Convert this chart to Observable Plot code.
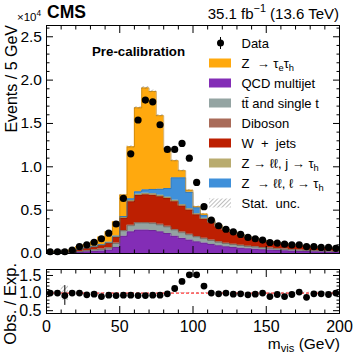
<!DOCTYPE html>
<html><head><meta charset="utf-8">
<script src="https://cdn.jsdelivr.net/npm/d3@7"></script>
<script src="https://cdn.jsdelivr.net/npm/@observablehq/plot@0.6"></script>
<style>
html,body{margin:0;padding:0;background:#fff;}
#wrap{position:relative;width:357px;height:356px;overflow:hidden;background:#fff;}
#wrap svg{position:absolute;left:0;}
</style></head>
<body><div id="wrap"></div>
<script>
// ---- data (units of 10^4 events / 5 GeV) ----
const binLow = [0,5,10,15,20,25,30,35,40,45,50,55,60,65,70,75,80,85,90,95,100,105,110,115,120,125,130,135,140,145,150,155,160,165,170,175,180,185,190,195];
const binWidth = 5;
const qcd     = [.003,.003,.005,.008,.012,.02,.025,.03,.04,.07,.2,.25,.27,.27,.265,.25,.23,.2,.175,.155,.135,.12,.105,.09,.078,.07,.062,.055,.05,.044,.04,.035,.032,.028,.025,.023,.021,.019,.017,.015];
const ttbar   = [.002,.002,.003,.006,.01,.012,.015,.018,.022,.045,.06,.07,.08,.08,.08,.078,.075,.07,.065,.06,.055,.05,.045,.04,.036,.033,.03,.027,.025,.022,.02,.018,.017,.015,.014,.013,.012,.011,.01,.009];
const diboson = [.001,.001,.001,.001,.002,.002,.003,.003,.004,.005,.006,.007,.008,.008,.008,.008,.008,.008,.008,.007,.006,.006,.005,.005,.004,.004,.004,.003,.003,.003,.003,.002,.002,.002,.002,.002,.002,.002,.002,.001];
const wjets   = [.004,.004,.004,.01,.02,.025,.03,.04,.05,.065,.14,.27,.31,.32,.32,.32,.32,.32,.3,.28,.25,.22,.2,.175,.148,.135,.118,.101,.094,.078,.07,.063,.062,.054,.048,.046,.041,.035,.037,.030];
const zjTau   = [.001,.001,.001,.002,.003,.004,.005,.006,.007,.008,.01,.015,.015,.016,.016,.016,.016,.015,.015,.014,.012,.011,.01,.009,.008,.007,.006,.005,.005,.004,.004,.003,.003,.003,.003,.003,.002,.002,.002,.002];
const zlTau   = [.001,.001,.001,.002,.003,.004,.005,.006,.007,.008,.01,.02,.03,.04,.05,.07,.1,.26,.31,.19,.07,.03,.012,.006,.003,.003,.002,.002,.001,.002,.001,.002,.002,.001,.001,.001,.002,.002,.002,.001];
const ztt     = [.008,.008,.007,.011,.03,.038,.052,.087,.12,.164,.249,.598,.967,1.176,1.131,.848,.461,.197,.082,.024,.012,.018,.013,.005,.003,.003,.003,.002,.002,.002,.002,.002,.002,.002,.002,.002,.002,.002,.002,.002];
const dataObs = [.02,.02,.02,.04,.08,.10,.13,.17,.235,.34,.635,1.15,1.54,1.77,1.75,1.485,1.20,1.20,1.27,1.10,.82,.54,.385,.32,.28,.25,.22,.185,.17,.155,.127,.12,.108,.10,.10,.08,.08,.07,.07,.06];
const ratio   = [1.0,1.0,0.93,1.0,1.0,0.95,0.97,0.9,0.94,0.93,0.94,0.94,0.93,0.93,0.94,0.94,0.98,1.13,1.33,1.52,1.52,1.2,1.0,0.98,1.0,0.97,0.98,0.95,0.97,1.0,0.9,0.96,0.9,0.96,1.03,0.88,0.98,0.98,0.96,1.0];
const ratioErr= [.05,.05,.28,.04,.03,.03,.03,.02,.02,.02,.01,.01,.01,.01,.01,.01,.01,.01,.01,.01,.01,.01,.01,.01,.01,.01,.01,.01,.01,.01,.02,.02,.02,.02,.02,.02,.02,.02,.02,.02];
const statUnc = [.04,.05,.21,.03,.02,.02,.02,.015,.012,.01,.01,.01,.008,.008,.008,.008,.01,.01,.01,.012,.015,.015,.015,.015,.015,.015,.02,.02,.02,.02,.02,.02,.02,.025,.025,.025,.025,.03,.03,.03];

const procKeys   = ["qcd","ttbar","diboson","wjets","zjTau","zlTau","ztt"];
const procColors = ["#832db6","#94a4a2","#a96b59","#bd1f01","#b9ac70","#3f90da","#ffa90e"];
const series = {qcd, ttbar, diboson, wjets, zjTau, zlTau, ztt};

const yMainTicks = [0,0.5,1,1.5,2,2.5];
const xTicks = [0,50,100,150,200];
const xMinor = [10,20,30,40,60,70,80,90,110,120,130,140,160,170,180,190];
const yMainMinor = [0.1,0.2,0.3,0.4,0.6,0.7,0.8,0.9,1.1,1.2,1.3,1.4,1.6,1.7,1.8,1.9,2.1,2.2,2.3,2.4,2.6];
const yRatioTicks = [0.5,1,1.5];
const yRatioMinor = [0.6,0.7,0.8,0.9,1.1,1.2,1.3,1.4,1.6];

// ---- derived tables ----
const xMax = 200;
const rows = procKeys.flatMap(p => [
  ...binLow.map((x, i) => ({proc: p, x, v: series[p][i]})),
  {proc: p, x: xMax, v: series[p][series[p].length - 1]}
]);
const bins = binLow.map((x, i) => {
  const total = d3.sum(procKeys, p => series[p][i]);
  return {x1: x, x2: x + binWidth, xc: x + binWidth / 2, total, data: dataObs[i],
          unc: statUnc[i], ratio: ratio[i], rerr: ratioErr[i]};
});
const edge = Object.fromEntries(procKeys.map((p, i) => [p, d3.color(procColors[i]).darker(0.9).formatHex()]));

const FONT = '"Liberation Sans", Arial, Helvetica, sans-serif';
const wrap = document.getElementById("wrap");

const blank = () => "";
const main = Plot.plot({
  width: 357, height: 260,
  marginLeft: 46, marginRight: 18, marginTop: 25, marginBottom: 7,
  x: {domain: [0, 200]},
  y: {domain: [0, 2.63]},
  color: {domain: procKeys, range: procColors},
  style: {fontFamily: FONT, background: "transparent", color: "black", overflow: "visible"},
  marks: [
    Plot.areaY(rows, {x: "x", y: "v", z: "proc", fill: "proc", order: procKeys, curve: "step-after"}),
    Plot.lineY(rows, Plot.stackY2({x: "x", y: "v", z: "proc", order: procKeys, curve: "step-after",
      stroke: d => edge[d.proc], strokeWidth: 0.6})),
    Plot.rect(bins, {x1: "x1", x2: "x2", y1: d => d.total * (1 - d.unc), y2: d => d.total * (1 + d.unc), fill: "url(#hatchA)"}),
    Plot.dot(bins, {x: "xc", y: "data", r: 3.6, fill: "black"}),
    Plot.axisY(yMainTicks, {anchor: "left", tickSize: 0, tickPadding: 4.5, tickFormat: d3.format(".1f"), fontSize: 15.5, label: null}),
    Plot.axisY(yMainTicks, {anchor: "left", tickSize: -7, tickFormat: blank, label: null}),
    Plot.axisY(yMainMinor, {anchor: "left", tickSize: -3.5, tickFormat: blank, label: null}),
    Plot.axisY(yMainTicks, {anchor: "right", tickSize: -7, tickFormat: blank, label: null}),
    Plot.axisY(yMainMinor, {anchor: "right", tickSize: -3.5, tickFormat: blank, label: null}),
    Plot.axisX(xTicks, {anchor: "bottom", tickSize: -7, tickFormat: blank, label: null}),
    Plot.axisX(xMinor, {anchor: "bottom", tickSize: -3.5, tickFormat: blank, label: null}),
    Plot.axisX(xTicks, {anchor: "top", tickSize: -7, tickFormat: blank, label: null}),
    Plot.axisX(xMinor, {anchor: "top", tickSize: -3.5, tickFormat: blank, label: null}),
    Plot.frame({stroke: "black", strokeWidth: 1})
  ]
});
main.style.top = "0px";
wrap.appendChild(main);

const rp = Plot.plot({
  width: 357, height: 96,
  marginLeft: 46, marginRight: 18, marginTop: 9, marginBottom: 43,
  x: {domain: [0, 200]},
  y: {domain: [0.42, 1.67]},
  style: {fontFamily: FONT, background: "transparent", color: "black", overflow: "visible"},
  marks: [
    Plot.rect(bins, {x1: "x1", x2: "x2", y1: d => 1 - d.unc, y2: d => 1 + d.unc, fill: "url(#hatchB)"}),
    Plot.ruleY([1], {stroke: "#ff0000", strokeDasharray: "3,2", strokeWidth: 1}),
    Plot.ruleX(bins, {x: "xc", y1: d => d.ratio - d.rerr, y2: d => d.ratio + d.rerr, stroke: "black", strokeWidth: 1}),
    Plot.dot(bins, {x: "xc", y: "ratio", r: 3.4, fill: "black"}),
    Plot.axisY(yRatioTicks, {anchor: "left", tickSize: 0, tickPadding: 5, tickFormat: d3.format(".1f"), fontSize: 16, label: null}),
    Plot.axisY(yRatioTicks, {anchor: "left", tickSize: -7, tickFormat: blank, label: null}),
    Plot.axisY(yRatioMinor, {anchor: "left", tickSize: -3.5, tickFormat: blank, label: null}),
    Plot.axisY(yRatioTicks, {anchor: "right", tickSize: -7, tickFormat: blank, label: null}),
    Plot.axisY(yRatioMinor, {anchor: "right", tickSize: -3.5, tickFormat: blank, label: null}),
    Plot.axisX(xTicks, {anchor: "bottom", tickSize: 0, tickPadding: 7.5, tickFormat: d3.format("d"), fontSize: 16, label: null}),
    Plot.axisX(xTicks, {anchor: "bottom", tickSize: -7, tickFormat: blank, label: null}),
    Plot.axisX(xMinor, {anchor: "bottom", tickSize: -3.5, tickFormat: blank, label: null}),
    Plot.axisX(xTicks, {anchor: "top", tickSize: -7, tickFormat: blank, label: null}),
    Plot.axisX(xMinor, {anchor: "top", tickSize: -3.5, tickFormat: blank, label: null}),
    Plot.frame({stroke: "black", strokeWidth: 1})
  ]
});
rp.style.top = "260px";
wrap.appendChild(rp);

// ---- hatch patterns ----
function addHatch(svgEl, id) {
  const defs = d3.select(svgEl).insert("defs", ":first-child");
  const p = defs.append("pattern").attr("id", id).attr("patternUnits", "userSpaceOnUse")
    .attr("width", 3).attr("height", 3).attr("patternTransform", "rotate(45)");
  p.append("line").attr("x1", 0).attr("y1", 0).attr("x2", 0).attr("y2", 3)
    .attr("stroke", "#6e6e6e").attr("stroke-width", 0.9);
}
addHatch(main, "hatchA");
addHatch(rp, "hatchB");

// ---- rich text helper ----
function rich(sel, parts, fs, subShift = 0.28) {
  let shift = 0;
  for (const [t, k] of parts) {
    const target = k === "sub" ? fs * subShift : k === "sup" ? -fs * 0.42 : 0;
    sel.append("tspan").attr("dy", target - shift).attr("font-size", k ? fs * 0.72 : fs).text(t);
    shift = target;
  }
}

const ms = d3.select(main);
const ann = ms.append("g").attr("font-family", FONT).attr("fill", "black").attr("text-anchor", "start");
ann.append("text").attr("x", 47).attr("y", 18).attr("font-weight", "bold").attr("font-size", 17.5).text("CMS");
rich(ann.append("text").attr("x", 17).attr("y", 20.5), [["×10", null], ["4", "sup"]], 11.5);
rich(ann.append("text").attr("x", 339).attr("y", 18.5).attr("text-anchor", "end"),
  [["35.1 fb", null], ["−1", "sup"], [" (13.6 TeV)", null]], 15);
ann.append("text").attr("x", 92).attr("y", 56).attr("font-weight", "bold").attr("font-size", 13.3).text("Pre-calibration");
ann.append("text").attr("transform", "translate(17,25) rotate(-90)").attr("text-anchor", "end")
  .attr("font-size", 16).text("Events / 5 GeV");

// legend
const legend = [
  {type: "data", parts: [["Data", null]]},
  {type: "fill", color: "#ffa90e", parts: [["Z  → τ", null], ["e", "sub"], ["τ", null], ["h", "sub"]]},
  {type: "fill", color: "#832db6", parts: [["QCD multijet", null]]},
  {type: "fill", color: "#94a4a2", parts: [["tt̄ and single t", null]]},
  {type: "fill", color: "#a96b59", parts: [["Diboson", null]]},
  {type: "fill", color: "#bd1f01", parts: [["W  +  jets", null]]},
  {type: "fill", color: "#b9ac70", parts: [["Z → ℓℓ, j → τ", null], ["h", "sub"]]},
  {type: "fill", color: "#3f90da", parts: [["Z  → ℓℓ, ℓ → τ", null], ["h", "sub"]]},
  {type: "hatch", parts: [["Stat.  unc.", null]]}
];
const lg = ms.append("g").attr("font-family", FONT).attr("text-anchor", "start");
legend.forEach((e, i) => {
  const cy = 43 + i * 20;
  if (e.type === "data") {
    lg.append("line").attr("x1", 220.5).attr("x2", 220.5).attr("y1", cy - 6).attr("y2", cy + 6).attr("stroke", "black");
    lg.append("circle").attr("cx", 220.5).attr("cy", cy).attr("r", 3.5).attr("fill", "black");
  } else if (e.type === "fill") {
    lg.append("rect").attr("x", 209).attr("y", cy - 4.5).attr("width", 22).attr("height", 9).attr("fill", e.color);
  } else {
    lg.append("rect").attr("x", 209).attr("y", cy - 4.5).attr("width", 22).attr("height", 9).attr("fill", "url(#hatchA)");
  }
  const t = lg.append("text").attr("x", 241.5).attr("y", cy + 4.6).attr("font-size", 13).attr("fill", "black");
  rich(t, e.parts, 13);
});

const rs = d3.select(rp);
const ann2 = rs.append("g").attr("font-family", FONT).attr("fill", "black").attr("text-anchor", "start");
ann2.append("text").attr("transform", "translate(16,3) rotate(-90)").attr("text-anchor", "end")
  .attr("font-size", 16.5).text("Obs. / Exp.");
rich(ann2.append("text").attr("x", 340).attr("y", 88.5).attr("text-anchor", "end"),
  [["m", null], ["vis", "sub"], [" (GeV)", null]], 15.5, 0.22);
</script></body></html>
